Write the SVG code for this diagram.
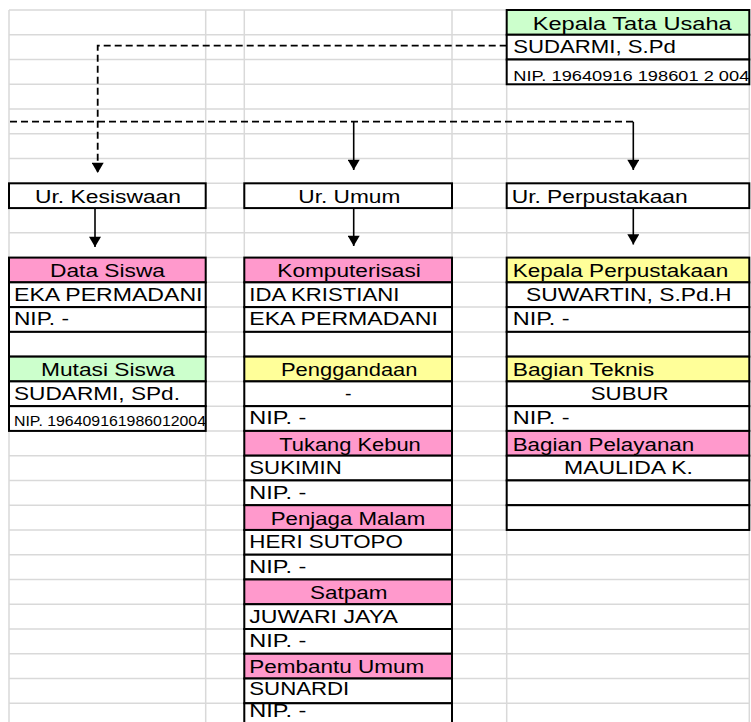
<svg xmlns="http://www.w3.org/2000/svg" width="751" height="722" viewBox="0 0 751 722">
<defs>
<style>
.grid line{stroke:#d9d9d9;stroke-width:1.5}
.c{stroke:#000;stroke-width:2;fill:#fff}
.g{fill:#ccffcc}
.p{fill:#ff99cc}
.y{fill:#ffff99}
text{font-family:"Liberation Sans",Arial,sans-serif;font-size:18.3px;fill:#000}
text.s{font-size:14px}
text.m{font-size:15px}
.con{fill:none;stroke:#000;stroke-width:1.6}
.dash{stroke-dasharray:7 4;stroke-width:1.8}
</style>
<marker id="ah" markerUnits="userSpaceOnUse" markerWidth="13" markerHeight="12" viewBox="0 0 11 13" refX="11" refY="6.5" orient="auto">
<path d="M0,0 L11,6.5 L0,13 z" fill="#000"/>
</marker>
</defs>
<rect x="0" y="0" width="751" height="722" fill="#fff"/>
<g class="grid">
<line x1="9" y1="10" x2="749.3" y2="10"/>
<line x1="9" y1="34.76" x2="749.3" y2="34.76"/>
<line x1="9" y1="59.52" x2="749.3" y2="59.52"/>
<line x1="9" y1="84.28" x2="749.3" y2="84.28"/>
<line x1="9" y1="109.04" x2="749.3" y2="109.04"/>
<line x1="9" y1="133.8" x2="749.3" y2="133.8"/>
<line x1="9" y1="158.56" x2="749.3" y2="158.56"/>
<line x1="9" y1="183.32" x2="749.3" y2="183.32"/>
<line x1="9" y1="208.08" x2="749.3" y2="208.08"/>
<line x1="9" y1="232.84" x2="749.3" y2="232.84"/>
<line x1="9" y1="257.6" x2="749.3" y2="257.6"/>
<line x1="9" y1="282.36" x2="749.3" y2="282.36"/>
<line x1="9" y1="307.12" x2="749.3" y2="307.12"/>
<line x1="9" y1="331.88" x2="749.3" y2="331.88"/>
<line x1="9" y1="356.64" x2="749.3" y2="356.64"/>
<line x1="9" y1="381.4" x2="749.3" y2="381.4"/>
<line x1="9" y1="406.16" x2="749.3" y2="406.16"/>
<line x1="9" y1="430.92" x2="749.3" y2="430.92"/>
<line x1="9" y1="455.68" x2="749.3" y2="455.68"/>
<line x1="9" y1="480.44" x2="749.3" y2="480.44"/>
<line x1="9" y1="505.2" x2="749.3" y2="505.2"/>
<line x1="9" y1="529.96" x2="749.3" y2="529.96"/>
<line x1="9" y1="554.72" x2="749.3" y2="554.72"/>
<line x1="9" y1="579.48" x2="749.3" y2="579.48"/>
<line x1="9" y1="604.24" x2="749.3" y2="604.24"/>
<line x1="9" y1="629" x2="749.3" y2="629"/>
<line x1="9" y1="653.76" x2="749.3" y2="653.76"/>
<line x1="9" y1="678.52" x2="749.3" y2="678.52"/>
<line x1="9" y1="703.28" x2="749.3" y2="703.28"/>
<line x1="9" y1="10" x2="9" y2="722"/>
<line x1="205.7" y1="10" x2="205.7" y2="722"/>
<line x1="244.3" y1="10" x2="244.3" y2="722"/>
<line x1="452" y1="10" x2="452" y2="722"/>
<line x1="506.7" y1="10" x2="506.7" y2="722"/>
<line x1="749.3" y1="10" x2="749.3" y2="722"/>
</g>

<g id="connectors">
<path class="con dash" d="M506.7,45.7 H97.7 V173" marker-end="url(#ah)"/>
<path class="con dash" d="M10,121.7 H633.3"/>
<path class="con" d="M633.3,121.7 V170" marker-end="url(#ah)"/>
<path class="con" d="M353.7,121.7 V170" marker-end="url(#ah)"/>
<path class="con" d="M95,208.1 V247" marker-end="url(#ah)"/>
<path class="con" d="M353.7,208.1 V246" marker-end="url(#ah)"/>
<path class="con" d="M633.3,208.1 V244.5" marker-end="url(#ah)"/>
</g>

<g id="kepala-tata-usaha">
<rect class="c g" x="506.7" y="10" width="242.6" height="24.76"/>
<rect class="c" x="506.7" y="34.76" width="242.6" height="24.76"/>
<rect class="c" x="506.7" y="59.52" width="242.6" height="24.76"/>
<text x="532.7" y="30" textLength="199" lengthAdjust="spacingAndGlyphs">Kepala Tata Usaha</text>
<text x="513.3" y="53.3" textLength="162.5" lengthAdjust="spacingAndGlyphs">SUDARMI, S.Pd</text>
<text class="s" x="513.3" y="81" textLength="236" lengthAdjust="spacingAndGlyphs">NIP. 19640916 198601 2 004</text>
</g>

<g id="ur-kesiswaan">
<rect class="c" x="9" y="183.32" width="196.7" height="24.76"/>
<text x="35" y="202.8" textLength="146" lengthAdjust="spacingAndGlyphs">Ur. Kesiswaan</text>
</g>
<g id="ur-umum">
<rect class="c" x="244.3" y="183.32" width="207.7" height="24.76"/>
<text x="298.3" y="202.8" textLength="102" lengthAdjust="spacingAndGlyphs">Ur. Umum</text>
</g>
<g id="ur-perpustakaan">
<rect class="c" x="506.7" y="183.32" width="242.6" height="24.76"/>
<text x="511.7" y="202.8" textLength="176" lengthAdjust="spacingAndGlyphs">Ur. Perpustakaan</text>
</g>

<g id="data-siswa">
<rect class="c p" x="9" y="257.6" width="196.7" height="24.76"/>
<rect class="c" x="9" y="282.36" width="196.7" height="24.76"/>
<rect class="c" x="9" y="307.12" width="196.7" height="24.76"/>
<rect class="c" x="9" y="331.88" width="196.7" height="24.76"/>
<text x="50" y="277.3" textLength="115" lengthAdjust="spacingAndGlyphs">Data Siswa</text>
<text x="14" y="300.7" textLength="188.5" lengthAdjust="spacingAndGlyphs">EKA PERMADANI</text>
<text x="14" y="325.4" textLength="55" lengthAdjust="spacingAndGlyphs">NIP. -</text>
</g>
<g id="mutasi-siswa">
<rect class="c g" x="9" y="356.64" width="196.7" height="24.76"/>
<rect class="c" x="9" y="381.4" width="196.7" height="24.76"/>
<rect class="c" x="9" y="406.16" width="196.7" height="24.76"/>
<text x="41" y="376.3" textLength="134" lengthAdjust="spacingAndGlyphs">Mutasi Siswa</text>
<text x="14" y="399.6" textLength="166" lengthAdjust="spacingAndGlyphs">SUDARMI, SPd.</text>
<text class="m" x="14" y="425.5" textLength="192" lengthAdjust="spacingAndGlyphs">NIP. 196409161986012004</text>
</g>

<g id="komputerisasi">
<rect class="c p" x="244.3" y="257.6" width="207.7" height="24.76"/>
<rect class="c" x="244.3" y="282.36" width="207.7" height="24.76"/>
<rect class="c" x="244.3" y="307.12" width="207.7" height="24.76"/>
<rect class="c" x="244.3" y="331.88" width="207.7" height="24.76"/>
<text x="277.3" y="276.9" textLength="143.5" lengthAdjust="spacingAndGlyphs">Komputerisasi</text>
<text x="249.3" y="300.5" textLength="150" lengthAdjust="spacingAndGlyphs">IDA KRISTIANI</text>
<text x="249.3" y="325.2" textLength="188.5" lengthAdjust="spacingAndGlyphs">EKA PERMADANI</text>
</g>
<g id="penggandaan">
<rect class="c y" x="244.3" y="356.64" width="207.7" height="24.76"/>
<rect class="c" x="244.3" y="381.4" width="207.7" height="24.76"/>
<rect class="c" x="244.3" y="406.16" width="207.7" height="24.76"/>
<text x="281" y="376.3" textLength="136.5" lengthAdjust="spacingAndGlyphs">Penggandaan</text>
<text x="345" y="399.6" textLength="6.5" lengthAdjust="spacingAndGlyphs">-</text>
<text x="249.3" y="424.4" textLength="57" lengthAdjust="spacingAndGlyphs">NIP. -</text>
</g>
<g id="tukang-kebun">
<rect class="c p" x="244.3" y="430.92" width="207.7" height="24.76"/>
<rect class="c" x="244.3" y="455.68" width="207.7" height="24.76"/>
<rect class="c" x="244.3" y="480.44" width="207.7" height="24.76"/>
<text x="279.3" y="450.6" textLength="141.5" lengthAdjust="spacingAndGlyphs">Tukang Kebun</text>
<text x="249.3" y="473.9" textLength="92.5" lengthAdjust="spacingAndGlyphs">SUKIMIN</text>
<text x="249.3" y="498.7" textLength="57" lengthAdjust="spacingAndGlyphs">NIP. -</text>
</g>
<g id="penjaga-malam">
<rect class="c p" x="244.3" y="505.2" width="207.7" height="24.76"/>
<rect class="c" x="244.3" y="529.96" width="207.7" height="24.76"/>
<rect class="c" x="244.3" y="554.72" width="207.7" height="24.76"/>
<text x="270.7" y="524.9" textLength="154.5" lengthAdjust="spacingAndGlyphs">Penjaga Malam</text>
<text x="249.3" y="548.2" textLength="153.5" lengthAdjust="spacingAndGlyphs">HERI SUTOPO</text>
<text x="249.3" y="573" textLength="57" lengthAdjust="spacingAndGlyphs">NIP. -</text>
</g>
<g id="satpam">
<rect class="c p" x="244.3" y="579.48" width="207.7" height="24.76"/>
<rect class="c" x="244.3" y="604.24" width="207.7" height="24.76"/>
<rect class="c" x="244.3" y="629" width="207.7" height="24.76"/>
<text x="310" y="599.2" textLength="77.5" lengthAdjust="spacingAndGlyphs">Satpam</text>
<text x="249.3" y="622.5" textLength="148.5" lengthAdjust="spacingAndGlyphs">JUWARI JAYA</text>
<text x="249.3" y="647.3" textLength="57" lengthAdjust="spacingAndGlyphs">NIP. -</text>
</g>
<g id="pembantu-umum">
<rect class="c p" x="244.3" y="653.76" width="207.7" height="24.76"/>
<rect class="c" x="244.3" y="678.52" width="207.7" height="24.76"/>
<rect class="c" x="244.3" y="703.28" width="207.7" height="24.76"/>
<text x="249.3" y="672.8" textLength="175" lengthAdjust="spacingAndGlyphs">Pembantu Umum</text>
<text x="249.3" y="695" textLength="100" lengthAdjust="spacingAndGlyphs">SUNARDI</text>
<text x="249.3" y="717" textLength="57" lengthAdjust="spacingAndGlyphs">NIP. -</text>
</g>

<g id="kepala-perpustakaan">
<rect class="c y" x="506.7" y="257.6" width="242.6" height="24.76"/>
<rect class="c" x="506.7" y="282.36" width="242.6" height="24.76"/>
<rect class="c" x="506.7" y="307.12" width="242.6" height="24.76"/>
<rect class="c" x="506.7" y="331.88" width="242.6" height="24.76"/>
<text x="512.7" y="276.9" textLength="215.5" lengthAdjust="spacingAndGlyphs">Kepala Perpustakaan</text>
<text x="526" y="300.5" textLength="205.5" lengthAdjust="spacingAndGlyphs">SUWARTIN, S.Pd.H</text>
<text x="512.7" y="325.2" textLength="57" lengthAdjust="spacingAndGlyphs">NIP. -</text>
</g>
<g id="bagian-teknis">
<rect class="c y" x="506.7" y="356.64" width="242.6" height="24.76"/>
<rect class="c" x="506.7" y="381.4" width="242.6" height="24.76"/>
<rect class="c" x="506.7" y="406.16" width="242.6" height="24.76"/>
<text x="512.7" y="376.3" textLength="141.5" lengthAdjust="spacingAndGlyphs">Bagian Teknis</text>
<text x="590.7" y="399.6" textLength="78" lengthAdjust="spacingAndGlyphs">SUBUR</text>
<text x="512.7" y="424.4" textLength="57" lengthAdjust="spacingAndGlyphs">NIP. -</text>
</g>
<g id="bagian-pelayanan">
<rect class="c p" x="506.7" y="430.92" width="242.6" height="24.76"/>
<rect class="c" x="506.7" y="455.68" width="242.6" height="24.76"/>
<rect class="c" x="506.7" y="480.44" width="242.6" height="24.76"/>
<rect class="c" x="506.7" y="505.2" width="242.6" height="24.76"/>
<text x="512.7" y="450.6" textLength="181.5" lengthAdjust="spacingAndGlyphs">Bagian Pelayanan</text>
<text x="564" y="473.9" textLength="129" lengthAdjust="spacingAndGlyphs">MAULIDA K.</text>
</g>
</svg>
